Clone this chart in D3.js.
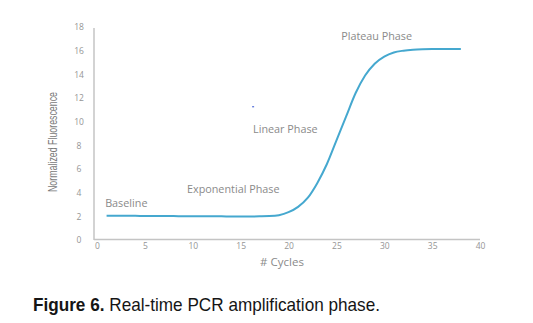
<!DOCTYPE html>
<html><head><meta charset="utf-8">
<script src="https://cdn.jsdelivr.net/npm/d3@7"></script>
<style>html,body{margin:0;padding:0;background:#fff;}</style>
</head><body>
<svg id="c" width="533" height="323"></svg>
<script>
const cycles = [1,2,3,4,5,6,7,8,9,10,11,12,13,14,15,16,17,18,19,20,21,22,23,24,25,26,27,28,29,30,31,32,33,34,35,36,37,38];
const fluorescence = [2.05,2.05,2.04,2.04,2.03,2.03,2.02,2.02,2.01,2.01,2.0,2.0,2.0,1.99,1.99,1.99,2.0,2.02,2.1,2.35,2.8,3.55,4.8,6.4,8.4,10.4,12.4,13.9,14.9,15.5,15.85,16.0,16.08,16.12,16.14,16.15,16.15,16.15];
const xTicks = [0,5,10,15,20,25,30,35,40];
const yTicks = [0,2,4,6,8,10,12,14,16,18];
const phaseLabels = ["Baseline","Exponential Phase","Linear Phase","Plateau Phase"];
const phaseX = [0.85,9.4,16.3,25.5];
const phaseY = [2.75,3.95,9.05,16.9];

const svg = d3.select("#c");
const x = d3.scaleLinear().domain([0,40]).range([97,480]);
const y = d3.scaleLinear().domain([0,18]).range([240,27]);

// axes lines
svg.append("line").attr("x1",94).attr("x2",94).attr("y1",y(18)+1).attr("y2",y(0))
  .attr("stroke","#c4c4c4").attr("stroke-width",1.5);
svg.append("line").attr("x1",94).attr("x2",x(40)).attr("y1",y(0)-0.5).attr("y2",y(0)-0.5)
  .attr("stroke","#c4c4c4").attr("stroke-width",1.5);

const tickFont = "'Open Sans', sans-serif";
const gx = svg.append("g").attr("transform",`translate(0,${y(0)-1})`)
  .call(d3.axisBottom(x).tickValues(xTicks).tickSize(0).tickPadding(4));
gx.select(".domain").remove();
gx.selectAll("text").attr("fill","#959595").style("font-family",tickFont).style("font-size","8.5px");

const gy = svg.append("g").attr("transform",`translate(94,0)`)
  .call(d3.axisLeft(y).tickValues(yTicks).tickSize(0).tickPadding(0));
gy.select(".domain").remove();
gy.selectAll("text").attr("fill","#959595").attr("text-anchor","middle").attr("x",-15)
  .style("font-family",tickFont).style("font-size","8.5px");

// axis titles
svg.append("text").attr("transform","translate(57,142) rotate(-90)").attr("text-anchor","middle")
  .attr("fill","#7a7a7a").style("font-family","'Liberation Sans', sans-serif")
  .style("font-size","12px").attr("textLength",100).attr("lengthAdjust","spacingAndGlyphs")
  .text("Normalized Fluorescence");
svg.append("text").attr("x",282).attr("y",266).attr("text-anchor","middle")
  .attr("fill","#8a8a8a").style("font-family",tickFont).style("font-size","11.5px").text("# Cycles");

// curve
const line = d3.line().x((d,i)=>x(cycles[i])).y(d=>y(d)).curve(d3.curveMonotoneX);
svg.append("path").datum(fluorescence).attr("d",line).attr("fill","none")
  .attr("stroke","#45a8cf").attr("stroke-width",2);

// phase labels
svg.selectAll("text.ph").data(phaseLabels).enter().append("text").attr("class","ph")
  .attr("x",(d,i)=>x(phaseX[i])).attr("y",(d,i)=>y(phaseY[i]))
  .attr("fill","#8a8a8a").style("font-family",tickFont).style("font-size","10.8px").text(d=>d);

// small artifact mark
svg.append("rect").attr("x",x(16.2)).attr("y",y(11.3)).attr("width",2).attr("height",1).attr("fill","#3050d0");

// caption
const cap = svg.append("text").attr("x",33).attr("y",311)
  .attr("textLength",347).attr("lengthAdjust","spacingAndGlyphs")
  .style("font-family","'Liberation Sans', sans-serif").style("font-size","18.5px").attr("fill","#151515");
cap.append("tspan").attr("font-weight","bold").text("Figure 6.");
cap.append("tspan").text(" Real-time PCR amplification phase.");
</script>
</body></html>
